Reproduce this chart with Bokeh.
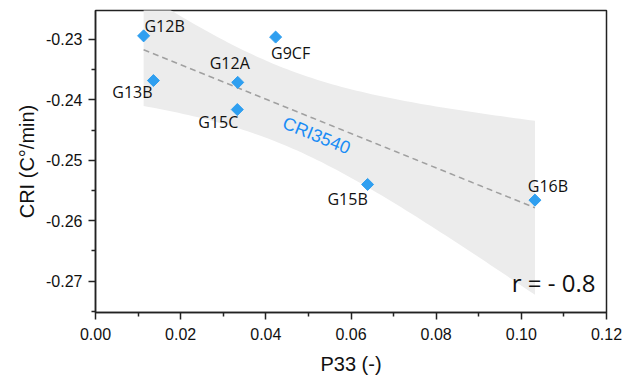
import numpy as np
from bokeh.plotting import figure
from bokeh.models import FixedTicker, PrintfTickFormatter, ColumnDataSource, Range1d
from bokeh.core.properties import value
from bokeh.embed import file_html
from bokeh.resources import INLINE

# ---- data ----
samples = ["G12B", "G13B", "G12A", "G15C", "G9CF", "G15B", "G16B"]
p33 = [0.0113, 0.0136, 0.0334, 0.0333, 0.0423, 0.0639, 0.1032]
cri = [-0.2294, -0.2368, -0.2371, -0.2416, -0.2296, -0.2540, -0.2566]
x_ticks = [0.00, 0.02, 0.04, 0.06, 0.08, 0.10, 0.12]
y_ticks = [-0.27, -0.26, -0.25, -0.24, -0.23]
fit_name = "CRI3540"
r_text = "r = - 0.8"

# label placement (screen px offsets, styling only)
label_dx = {"G12B": 21, "G13B": -21, "G12A": -8, "G15C": -19, "G9CF": 15, "G15B": -20, "G16B": 13}
label_dy = {"G12B": -10, "G13B": 11, "G12A": -19, "G15C": 12, "G9CF": 16, "G15B": 15, "G16B": -14}

# ---- regression and 95% confidence band ----
xa = np.array(p33)
ya = np.array(cri)
n = len(xa)
slope, intercept = np.polyfit(xa, ya, 1)
xg = np.linspace(xa.min(), xa.max(), 80)
yg = intercept + slope * xg
resid = ya - (intercept + slope * xa)
s = np.sqrt(np.sum(resid ** 2) / (n - 2))
sxx = np.sum((xa - xa.mean()) ** 2)
t975 = 2.5706
half = t975 * s * np.sqrt(1.0 / n + (xg - xa.mean()) ** 2 / sxx)

p = figure(width=633, height=379, output_backend="svg", toolbar_location=None,
           x_range=Range1d(0, 0.12), y_range=Range1d(-0.2752, -0.2252),
           min_border_left=95, min_border_right=27, min_border_top=10, min_border_bottom=67)
p.background_fill_color = "white"
p.border_fill_color = "white"
p.outline_line_color = "#222222"
p.outline_line_width = 1.5
p.grid.visible = False

p.varea(x=xg, y1=yg - half, y2=yg + half, fill_color="#ececec", fill_alpha=1.0)
p.line(x=xg, y=yg, line_color="#a0a0a0", line_width=1.5, line_dash="6 4")

src = ColumnDataSource(dict(x=p33, y=cri, name=samples,
                            dx=[label_dx[s_] for s_ in samples],
                            dy=[label_dy[s_] for s_ in samples]))
p.scatter(x="x", y="y", source=src, marker="square", angle=np.pi / 4, size=8.5,
          fill_color="#2f9ff0", line_color="#2f9ff0")
p.text(x="x", y="y", text="name", source=src, x_offset="dx", y_offset="dy",
       text_align="center", text_baseline="middle", text_font=value("Open Sans"),
       text_font_size="16px", text_color="#111111")

p.text(x=[0.0519], y=[-0.2459], text=[fit_name], angle=-22, angle_units="deg",
       text_align="center", text_baseline="middle", text_font=value("Liberation Sans"),
       text_font_size="18px", text_color="#1a8cf5")
p.text(x=[0.1174], y=[-0.2703], text=[r_text], text_align="right", text_baseline="middle",
       text_font=value("Open Sans"), text_font_size="24px", text_color="#111111")

for ax in (p.xaxis[0], p.yaxis[0]):
    ax.axis_line_color = "#222222"
    ax.axis_line_width = 1.5
    ax.major_tick_line_color = "#222222"
    ax.minor_tick_line_color = "#222222"
    ax.major_tick_line_width = 1.5
    ax.minor_tick_line_width = 1.5
    ax.major_tick_in = 0
    ax.minor_tick_in = 0
    ax.major_label_text_font = "Liberation Sans"
    ax.major_label_text_font_size = "16px"
    ax.major_label_text_color = "#111111"
    ax.axis_label_text_font = "Liberation Sans"
    ax.axis_label_text_font_size = "20px"
    ax.axis_label_text_font_style = "normal"
    ax.axis_label_text_color = "#111111"
    ax.major_tick_out = 7
    ax.minor_tick_out = 4

p.xaxis[0].ticker = FixedTicker(ticks=x_ticks, minor_ticks=[0.01, 0.03, 0.05, 0.07, 0.09, 0.11])
p.xaxis[0].formatter = PrintfTickFormatter(format="%.2f")
p.xaxis[0].axis_label = "P33 (-)"
p.xaxis[0].major_label_standoff = 8
p.xaxis[0].axis_label_standoff = 10

p.yaxis[0].ticker = FixedTicker(ticks=y_ticks, minor_ticks=[-0.275, -0.265, -0.255, -0.245, -0.235, -0.225])
p.yaxis[0].formatter = PrintfTickFormatter(format="%.2f")
p.yaxis[0].axis_label = "CRI (C°/min)"
p.yaxis[0].major_label_standoff = 6
p.yaxis[0].axis_label_standoff = 5

open("out.html", "w").write(file_html(p, INLINE))
